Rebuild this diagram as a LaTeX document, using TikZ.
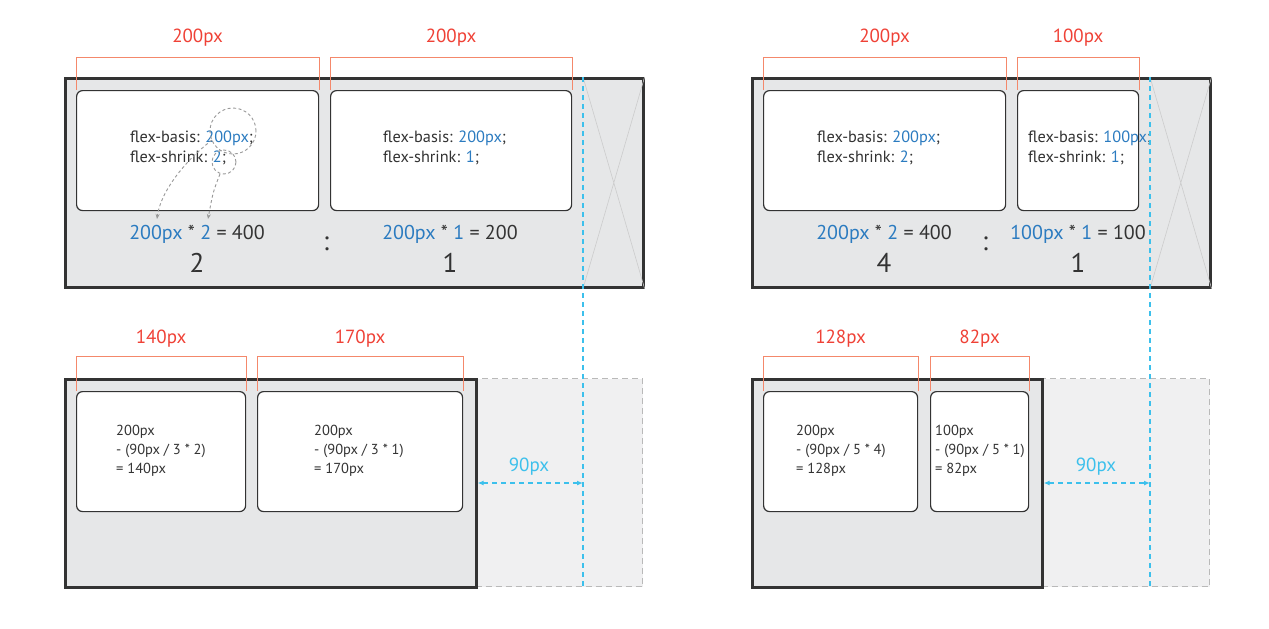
\documentclass[tikz,border=0pt]{standalone}
\usepackage{fontspec}
\setmainfont{PT Sans}
\usetikzlibrary{calc,arrows.meta}
\definecolor{dimred}{HTML}{EF4136}
\definecolor{brk}{HTML}{F4886B}
\definecolor{cssblue}{HTML}{2B7BC0}
\definecolor{guide}{HTML}{3CC0EC}
\definecolor{panel}{HTML}{E6E7E8}
\definecolor{ghostfill}{HTML}{F0F0F1}
\definecolor{ink}{HTML}{333333}
\newcommand{\bl}[1]{\textcolor{cssblue}{#1}}
\begin{document}
\begin{tikzpicture}[x=1pt,y=-1pt,
  panelbox/.style={draw=ink, line width=2.6pt, fill=panel, inner sep=0pt, anchor=north west},
  ghostbox/.style={draw=gray!55, dash pattern=on 6pt off 4pt, line width=1pt, fill=ghostfill, inner sep=0pt, anchor=north west},
  itembox/.style={draw=ink, line width=1.2pt, fill=white, rounded corners=6pt, inner sep=0pt, anchor=north west, minimum height=120pt},
  bracket/.style={draw=brk, line width=1pt},
  dimlabel/.style={text=dimred, font=\fontsize{19}{22}\selectfont},
  code/.style={text=ink, align=left, anchor=west, inner sep=0pt, font=\fontsize{16.3}{20}\selectfont},
  calcnote/.style={text=ink, align=left, anchor=west, inner sep=0pt, font=\fontsize{14.5}{19}\selectfont},
  formula/.style={text=ink, font=\fontsize{20}{22}\selectfont},
  ratio/.style={text=ink, font=\fontsize{27}{27}\selectfont},
  guideline/.style={draw=guide, line width=1.2pt, dash pattern=on 5pt off 4pt},
  gap/.style={guideline, {Latex[length=6pt,width=5pt]}-{Latex[length=6pt,width=5pt]}},
  gaplabel/.style={text=guide, font=\fontsize{19}{22}\selectfont},
  cross/.style={draw=gray!40, line width=0.6pt},
  hint/.style={draw=gray!80, line width=0.9pt, dash pattern=on 3pt off 2.5pt},
]
\useasboundingbox (0,0) rectangle (1269,629);

% guide positions (edge of the original 400px / 300px content)
\coordinate (g1t) at (583,77);  \coordinate (g1b) at (583,588);
\coordinate (g2t) at (1150,77); \coordinate (g2b) at (1150,588);

% ---------- top left: flex-basis 200px + 200px ----------
\node[panelbox, minimum width=578pt, minimum height=209pt] (P1) at (64,77) {};
\draw[cross] (g1t) -- (P1.south east) (P1.north east) -- (g1t |- P1.south);
\node[itembox, minimum width=242pt] (A1) at (76,90) {};
\node[itembox, minimum width=241pt] (A2) at (330,90) {};
\node[code] (A1t) at (130,148) {flex-basis: \bl{200px};\\flex-shrink: \bl{2};};
\node[code] (A2t) at (383,148) {flex-basis: \bl{200px};\\flex-shrink: \bl{1};};
\node[formula] (A1f) at (197,234) {\bl{200px} * \bl{2} = 400};
\node[formula] (A2f) at (450,234) {\bl{200px} * \bl{1} = 200};
\node[ratio] (A1r) at (197,263) {2};
\node[ratio] (A2r) at (450,263) {1};
\node[ratio] (c1) at (326,244) {:};

% dashed hints from the declarations down to the product
\coordinate (hb) at (233,131);
\coordinate (hs) at (224,162);
\draw[hint] (hb) circle[radius=23pt];
\draw[hint] (hs) circle[radius=12pt];
\draw[hint, -{Stealth[length=5pt,width=4pt]}] ($(hb)+(-21,9)$) .. controls (180,165) and (160,195) .. (157,219);
\draw[hint, -{Stealth[length=5pt,width=4pt]}] ($(hs)+(-4,12)$) .. controls (213,192) .. (208,219);

\draw[bracket] (A1.north west) -- ++(0,-33) -| (A1.north east);
\draw[bracket] (A2.north west) -- ++(0,-33) -| (A2.north east);
\node[dimlabel] (A1d) at ($(A1.north)+(0,-52)$) {200px};
\node[dimlabel] (A2d) at ($(A2.north)+(0,-52)$) {200px};

% ---------- top right: flex-basis 200px + 100px ----------
\node[panelbox, minimum width=458pt, minimum height=209pt] (P2) at (751,77) {};
\draw[cross] (g2t) -- (P2.south east) (P2.north east) -- (g2t |- P2.south);
\node[itembox, minimum width=242pt] (B1) at (763,90) {};
\node[itembox, minimum width=121pt] (B2) at (1017,90) {};
\node[code] (B1t) at (817,148) {flex-basis: \bl{200px};\\flex-shrink: \bl{2};};
\node[code] (B2t) at (1028,148) {flex-basis: \bl{100px};\\flex-shrink: \bl{1};};
\node[formula] (B1f) at (884,234) {\bl{200px} * \bl{2} = 400};
\node[formula] (B2f) at (1078,234) {\bl{100px} * \bl{1} = 100};
\node[ratio] (B1r) at (884,263) {4};
\node[ratio] (B2r) at (1078,263) {1};
\node[ratio] (c2) at (985,244) {:};
\draw[bracket] (B1.north west) -- ++(0,-33) -| (B1.north east);
\draw[bracket] (B2.north west) -- ++(0,-33) -| (B2.north east);
\node[dimlabel] (B1d) at ($(B1.north)+(0,-52)$) {200px};
\node[dimlabel] (B2d) at ($(B2.north)+(0,-52)$) {100px};

% ---------- bottom left: shrunk into 310px ----------
\node[ghostbox, minimum width=167pt, minimum height=208pt] (G3) at (475,378) {};
\node[panelbox, minimum width=411pt, minimum height=208pt] (P3) at (64,378) {};
\node[itembox, minimum width=169pt] (C1) at (76,391) {};
\node[itembox, minimum width=205pt] (C2) at (257,391) {};
\node[calcnote] (C1t) at (116,451) {200px\\- (90px / 3 * 2)\\= 140px};
\node[calcnote] (C2t) at (314,451) {200px\\- (90px / 3 * 1)\\= 170px};
\draw[bracket] (C1.north west) -- ++(0,-35) -| (C1.north east);
\draw[bracket] (C2.north west) -- ++(0,-35) -| (C2.north east);
\node[dimlabel] (C1d) at ($(C1.north)+(0,-52)$) {140px};
\node[dimlabel] (C2d) at ($(C2.north)+(0,-52)$) {170px};

% ---------- bottom right: shrunk into 210px ----------
\node[ghostbox, minimum width=168pt, minimum height=208pt] (G4) at (1041,378) {};
\node[panelbox, minimum width=290pt, minimum height=208pt] (P4) at (751,378) {};
\node[itembox, minimum width=154pt] (D1) at (763,391) {};
\node[itembox, minimum width=98pt] (D2) at (930,391) {};
\node[calcnote] (D1t) at (796,451) {200px\\- (90px / 5 * 4)\\= 128px};
\node[calcnote] (D2t) at (935,451) {100px\\- (90px / 5 * 1)\\= 82px};
\draw[bracket] (D1.north west) -- ++(0,-35) -| (D1.north east);
\draw[bracket] (D2.north west) -- ++(0,-35) -| (D2.north east);
\node[dimlabel] (D1d) at ($(D1.north)+(0,-52)$) {128px};
\node[dimlabel] (D2d) at ($(D2.north)+(0,-52)$) {82px};

% ---------- overflow guides ----------
\draw[guideline] (g1t) -- (g1b);
\draw[guideline] (g2t) -- (g2b);
\coordinate (a3) at (583,483);
\coordinate (a4) at (1150,483);
\draw[gap] (P3.east |- a3) -- (a3);
\draw[gap] (P4.east |- a4) -- (a4);
\node[gaplabel] (l3) at (529,467) {90px};
\node[gaplabel] (l4) at (1096,467) {90px};
\end{tikzpicture}
\end{document}
